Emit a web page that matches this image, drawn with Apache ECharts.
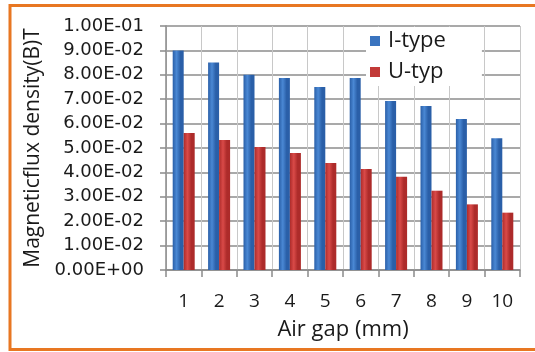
<!DOCTYPE html>
<html>
<head>
<meta charset="utf-8">
<script src="https://cdn.jsdelivr.net/npm/echarts@6/dist/echarts.min.js"></script>
<style>
  html, body { margin: 0; padding: 0; background: #ffffff; }
  #chart { width: 535px; height: 352px; }
</style>
</head>
<body>
<div id="chart"></div>
<script>
// Air gap (mm)
const airGaps = ['1', '2', '3', '4', '5', '6', '7', '8', '9', '10'];
// Magnetic flux density (T)
const iTypeValues = [0.090, 0.085, 0.080, 0.0787, 0.075, 0.0787, 0.0693, 0.0672, 0.0619, 0.054];
const uTypValues  = [0.0561, 0.0533, 0.0504, 0.048, 0.0439, 0.0414, 0.0382, 0.0325, 0.0269, 0.0235];
const yTickLabels = ['0.00E+00', '1.00E-02', '2.00E-02', '3.00E-02', '4.00E-02', '5.00E-02',
                     '6.00E-02', '7.00E-02', '8.00E-02', '9.00E-02', '1.00E-01'];

const FONT = '"Open Sans", sans-serif';
const TICK_FONT = '"DejaVu Sans", sans-serif';

function cylinder(dark, light) {
  return new echarts.graphic.LinearGradient(0, 0, 1, 0, [
    { offset: 0, color: dark },
    { offset: 0.35, color: light },
    { offset: 0.7, color: dark },
    { offset: 1, color: dark }
  ]);
}

const chart = echarts.init(document.getElementById('chart'), null, { renderer: 'canvas' });
chart.setOption({
  animation: false,
  backgroundColor: '#ffffff',
  grid: { left: 166, right: 15, top: 26, bottom: 82, containLabel: false },
  legend: {
    orient: 'vertical',
    left: 366,
    top: 27,
    backgroundColor: '#ffffff',
    padding: [3, 36, 3, 4],
    itemWidth: 10,
    itemHeight: 10,
    itemGap: 9,
    icon: 'rect',
    textStyle: { fontFamily: FONT, fontSize: 22, color: '#1a1a1a', padding: [0, 0, 0, 3] },
    data: [
      { name: 'I-type', itemStyle: { color: '#3a74bf' } },
      { name: 'U-typ', itemStyle: { color: '#c23a38' } }
    ]
  },
  xAxis: {
    type: 'category',
    data: airGaps,
    name: 'Air gap (mm)',
    nameLocation: 'middle',
    nameGap: 49,
    nameTextStyle: { fontFamily: FONT, fontSize: 22, color: '#1a1a1a' },
    axisLine: { lineStyle: { color: '#8a8a8a', width: 1.5 } },
    axisTick: { show: true, length: 7, lineStyle: { color: '#8a8a8a', width: 1.5 } },
    axisLabel: { fontFamily: FONT, fontSize: 19, color: '#1a1a1a', margin: 22 },
    splitLine: { show: true, lineStyle: { color: '#c8c8c8', width: 1 } }
  },
  yAxis: {
    type: 'value',
    min: 0,
    max: 0.1,
    interval: 0.01,
    name: 'Magneticflux density(B)T',
    nameLocation: 'middle',
    nameGap: 120,
    nameRotate: 90,
    nameTextStyle: { fontFamily: FONT, fontSize: 21, color: '#1a1a1a' },
    axisLine: { show: true, lineStyle: { color: '#8a8a8a', width: 1.5 } },
    axisTick: { show: true, length: 6, lineStyle: { color: '#8a8a8a', width: 1.5 } },
    axisLabel: {
      fontFamily: TICK_FONT, fontSize: 18, color: '#1a1a1a', margin: 22,
      formatter: v => yTickLabels[Math.round(v / 0.01)]
    },
    splitLine: { lineStyle: { color: '#8c8c8c', width: 1.5 } }
  },
  graphic: [{
    type: 'rect',
    shape: { x: 10, y: 5.5, width: 600, height: 344 },
    style: { fill: 'none', stroke: '#e87722', lineWidth: 3 },
    z: 100
  }],
  series: [
    {
      name: 'I-type',
      type: 'bar',
      data: iTypeValues,
      barWidth: 11,
      barGap: '0%',
      itemStyle: { color: cylinder('#2a5fa8', '#4a88d4') }
    },
    {
      name: 'U-typ',
      type: 'bar',
      data: uTypValues,
      barWidth: 11,
      barGap: '0%',
      itemStyle: { color: cylinder('#ad2b2a', '#d94a48') }
    }
  ]
});
</script>
</body>
</html>
